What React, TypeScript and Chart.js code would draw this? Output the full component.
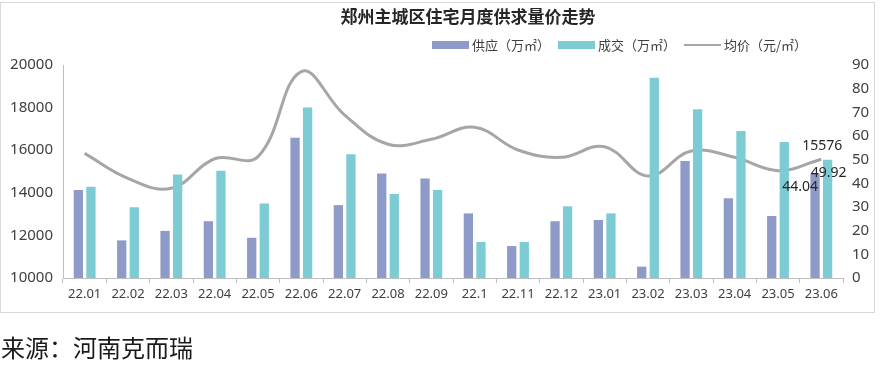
import React, { useEffect, useRef } from "react";
import { Chart, registerables } from "chart.js";

Chart.register(...registerables);

const categories = ["22.01", "22.02", "22.03", "22.04", "22.05", "22.06", "22.07", "22.08", "22.09", "22.1", "22.11", "22.12", "23.01", "23.02", "23.03", "23.04", "23.05", "23.06"];
const supply = [37.2, 15.9, 19.9, 24.0, 17.0, 59.3, 30.8, 44.2, 42.0, 27.3, 13.5, 24.0, 24.5, 4.8, 49.4, 33.7, 26.2, 44.04];
const deal = [38.6, 29.9, 43.7, 45.3, 31.5, 72.0, 52.3, 35.5, 37.2, 15.2, 15.2, 30.3, 27.3, 84.6, 71.3, 62.1, 57.5, 49.92];
const price = [15850, 14680, 14210, 15600, 15700, 19690, 17650, 16280, 16510, 17075, 16010, 15665, 16165, 14790, 15960, 15665, 15040, 15576];

const title = "郑州主城区住宅月度供求量价走势";
const seriesNames = ["供应（万㎡）", "成交（万㎡）", "均价（元/㎡）"];
const source = "来源：河南克而瑞";

const SUPPLY_COLOR = "#8e9bc8";
const DEAL_COLOR = "#7dccd3";
const LINE_COLOR = "#a6a6a6";
const CJK = "'Noto Sans CJK SC', 'Noto Sans', sans-serif";
const NUM = "'Noto Sans', 'DejaVu Sans', sans-serif";

const framePlugin = {
  id: "frameAndHeader",
  beforeDraw(chart: any) {
    const ctx = chart.ctx;
    ctx.save();
    ctx.fillStyle = "#ffffff";
    ctx.fillRect(0, 0, chart.width, chart.height);
    ctx.strokeStyle = "#d9d9d9";
    ctx.lineWidth = 1;
    ctx.strokeRect(0.5, 2.5, 874, 310);
    ctx.restore();
  },
  afterDraw(chart: any) {
    const ctx = chart.ctx;
    ctx.save();
    // title
    ctx.font = `bold 17px ${CJK}`;
    ctx.fillStyle = "#262626";
    ctx.textAlign = "center";
    ctx.textBaseline = "middle";
    ctx.fillText(title, 468, 17);
    // legend
    ctx.font = `13px ${CJK}`;
    ctx.textAlign = "left";
    ctx.fillStyle = "#404040";
    let x = 432;
    const y = 45;
    const symbols = [SUPPLY_COLOR, DEAL_COLOR, LINE_COLOR];
    seriesNames.forEach((name, i) => {
      if (i < 2) {
        ctx.fillStyle = symbols[i];
        ctx.fillRect(x, y - 4, 37, 8);
      } else {
        ctx.strokeStyle = symbols[i];
        ctx.lineWidth = 2;
        ctx.beginPath();
        ctx.moveTo(x, y);
        ctx.lineTo(x + 37, y);
        ctx.stroke();
      }
      x += 40;
      ctx.fillStyle = "#404040";
      ctx.fillText(name, x, y);
      x += ctx.measureText(name).width + 8;
    });
    ctx.restore();
  },
  afterDatasetsDraw(chart: any) {
    const ctx = chart.ctx;
    ctx.save();
    ctx.font = `14px ${NUM}`;
    ctx.fillStyle = "#262626";
    ctx.textAlign = "center";
    ctx.textBaseline = "middle";
    const last = categories.length - 1;
    const pPt = chart.getDatasetMeta(2).data[last];
    const sPt = chart.getDatasetMeta(0).data[last];
    const dPt = chart.getDatasetMeta(1).data[last];
    if (pPt) ctx.fillText(String(price[last]), pPt.x + 1, pPt.y - 13);
    if (sPt) ctx.fillText(String(supply[last]), sPt.x - 15, sPt.y + 13);
    if (dPt) ctx.fillText(String(deal[last]), dPt.x + 1, dPt.y + 13);
    ctx.restore();
  },
};

export default function App() {
  const ref = useRef<HTMLCanvasElement | null>(null);
  useEffect(() => {
    if (!ref.current) return;
    const chart = new Chart(ref.current, {
      type: "bar",
      data: {
        labels: categories,
        datasets: [
          {
            type: "bar",
            label: seriesNames[0],
            data: supply,
            backgroundColor: SUPPLY_COLOR,
            yAxisID: "y1",
            order: 1,
            categoryPercentage: 0.58,
            barPercentage: 0.74,
          },
          {
            type: "bar",
            label: seriesNames[1],
            data: deal,
            backgroundColor: DEAL_COLOR,
            yAxisID: "y1",
            order: 1,
            categoryPercentage: 0.58,
            barPercentage: 0.74,
          },
          {
            type: "line",
            label: seriesNames[2],
            data: price,
            borderColor: LINE_COLOR,
            borderWidth: 3,
            pointRadius: 0,
            tension: 0.4,
            fill: false,
            yAxisID: "y",
            order: 2,
          } as any,
        ],
      },
      options: {
        responsive: false,
        animation: false,
        layout: { padding: { top: 65, bottom: 58, left: 0, right: 0 } },
        plugins: {
          legend: { display: false },
          title: { display: false },
          tooltip: { enabled: false },
        },
        scales: {
          x: {
            afterFit: (s: any) => { s.height = 30; },
            grid: { display: true, drawOnChartArea: false, drawTicks: true, tickLength: 5, color: "#bfbfbf", offset: true },
            border: { display: true, color: "#bfbfbf", width: 1 },
            ticks: { color: "#404040", font: { family: NUM, size: 13 }, padding: 3, maxRotation: 0, autoSkip: false },
          },
          y: {
            position: "left",
            min: 10000,
            max: 20000,
            afterFit: (s: any) => { s.width = 63; },
            grid: { display: true, drawOnChartArea: false, drawTicks: false },
            border: { display: true, color: "#bfbfbf", width: 1 },
            ticks: { stepSize: 2000, color: "#404040", font: { family: NUM, size: 15 }, padding: 10, callback: (v: any) => String(v) },
          },
          y1: {
            position: "right",
            min: 0,
            max: 90,
            afterFit: (s: any) => { s.width = 38; },
            grid: { display: false, drawOnChartArea: false, drawTicks: false },
            border: { display: false },
            ticks: { stepSize: 10, color: "#404040", font: { family: NUM, size: 15 }, padding: 9, callback: (v: any) => String(v) },
          },
        },
      } as any,
      plugins: [framePlugin],
    });
    return () => chart.destroy();
  }, []);

  return (
    <div style={{ position: "absolute", left: 0, top: 0, width: 881, height: 366, background: "#fff" }}>
      <canvas ref={ref} width={881} height={366} style={{ display: "block", width: 881, height: 366 }} />
      <div
        style={{
          position: "absolute",
          left: 1,
          top: 333,
          fontFamily: CJK,
          fontSize: 24,
          lineHeight: "28px",
          color: "#1a1a1a",
          whiteSpace: "nowrap",
        }}
      >
        {source}
      </div>
    </div>
  );
}
